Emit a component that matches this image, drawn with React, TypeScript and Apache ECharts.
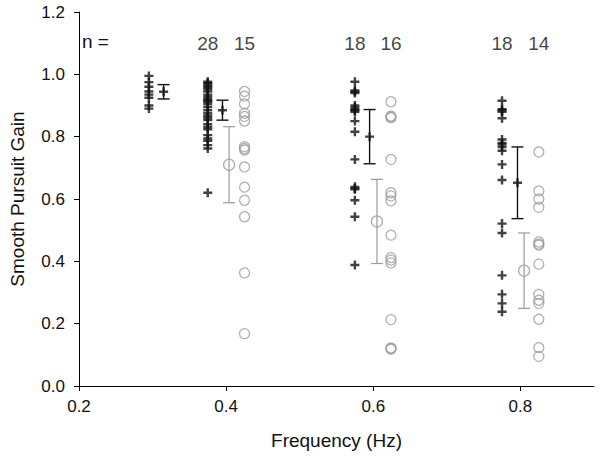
import React, { useEffect, useRef } from "react";
import * as echarts from "echarts";

// Column x positions (Hz) for individual points and for the means
const blackX = [0.295, 0.375, 0.575, 0.775];
const blackMeanX = [0.315, 0.395, 0.595, 0.796];
const greyX = [0.425, 0.624, 0.825];
const greyMeanX = [0.404, 0.605, 0.805];

// Individual gains (black crosses)
const black03 = [0.995, 0.975, 0.96, 0.945, 0.935, 0.925, 0.9, 0.89];
const black04 = [0.976, 0.972, 0.968, 0.962, 0.958, 0.952, 0.945, 0.935, 0.928, 0.92, 0.916, 0.912, 0.905, 0.895, 0.885, 0.875, 0.867, 0.86, 0.853, 0.84, 0.831, 0.824, 0.805, 0.794, 0.787, 0.773, 0.762, 0.62];
const black06 = [0.976, 0.948, 0.944, 0.94, 0.9, 0.894, 0.888, 0.885, 0.88, 0.85, 0.816, 0.727, 0.639, 0.634, 0.631, 0.596, 0.543, 0.388];
const black08 = [0.915, 0.888, 0.885, 0.88, 0.859, 0.791, 0.78, 0.775, 0.767, 0.755, 0.711, 0.661, 0.521, 0.491, 0.355, 0.294, 0.265, 0.238];

// Individual gains (grey circles)
const grey04 = [0.945, 0.93, 0.905, 0.875, 0.865, 0.85, 0.768, 0.762, 0.757, 0.703, 0.638, 0.596, 0.543, 0.363, 0.168];
const grey06 = [0.912, 0.866, 0.863, 0.861, 0.727, 0.62, 0.61, 0.594, 0.484, 0.412, 0.404, 0.395, 0.213, 0.122, 0.12, 0.118];
const grey08 = [0.751, 0.626, 0.6, 0.573, 0.462, 0.455, 0.452, 0.391, 0.294, 0.275, 0.265, 0.214, 0.123, 0.095];

// Means and error half-widths
const blackMean = [0.944, 0.885, 0.8, 0.652];
const blackErr = [0.023, 0.032, 0.087, 0.115];
const greyMean = [0.71, 0.528, 0.37];
const greyErr = [0.122, 0.135, 0.121];

const xTicks = [0.2, 0.4, 0.6, 0.8];
const nLabelY = 1.1;

const BLACK = "#111111";
const GREY = "#9c9c9c";
const FONT = "'Liberation Sans', Arial, sans-serif";
const PLUS = "path://M3.3,0H5.7V3.3H9V5.7H5.7V9H3.3V5.7H0V3.3H3.3Z";

export default function App() {
  const ref = useRef<HTMLDivElement>(null);
  useEffect(() => {
    if (!ref.current) return;
    const chart = echarts.init(ref.current, undefined, { renderer: "svg" });

    const blackGroups = [black03, black04, black06, black08];
    const greyGroups = [grey04, grey06, grey08];
    const blackPts: number[][] = [];
    blackGroups.forEach((g, i) => g.forEach((v) => blackPts.push([blackX[i], v])));
    const greyPts: number[][] = [];
    greyGroups.forEach((g, i) => g.forEach((v) => greyPts.push([greyX[i], v])));

    const errData: any[] = [];
    blackMean.forEach((m, i) => errData.push([blackMeanX[i], m - blackErr[i], m + blackErr[i], 0]));
    greyMean.forEach((m, i) => errData.push([greyMeanX[i], m - greyErr[i], m + greyErr[i], 1]));

    const nData: any[] = [];
    for (let i = 1; i < blackGroups.length; i++) {
      nData.push([blackX[i], nLabelY, String(blackGroups[i].length)]);
      nData.push([greyX[i - 1], nLabelY, String(greyGroups[i - 1].length)]);
    }

    chart.setOption({
      animation: false,
      textStyle: { fontFamily: FONT },
      grid: { left: 72, right: 6, top: 12, bottom: 74 },
      xAxis: {
        type: "value",
        min: 0.2,
        max: 0.9,
        interval: 0.2,
        name: "Frequency (Hz)",
        nameLocation: "middle",
        nameGap: 45,
        nameTextStyle: { fontSize: 19, color: "#111", fontFamily: FONT },
        axisLine: { show: true, lineStyle: { color: "#000", width: 1 } },
        axisTick: { show: true, length: 5, lineStyle: { color: "#000" }, customValues: xTicks },
        axisLabel: {
          fontSize: 17,
          color: "#111",
          margin: 12,
          customValues: xTicks,
          formatter: (v: number) => v.toFixed(1),
        },
        splitLine: { show: false },
      },
      yAxis: {
        type: "value",
        min: 0,
        max: 1.2,
        interval: 0.2,
        name: "Smooth Pursuit Gain",
        nameLocation: "middle",
        nameGap: 52,
        nameTextStyle: { fontSize: 19, color: "#111", fontFamily: FONT },
        axisLine: { show: true, lineStyle: { color: "#000", width: 1 } },
        axisTick: { show: true, length: 5, lineStyle: { color: "#000" } },
        axisLabel: {
          fontSize: 17,
          color: "#111",
          margin: 14,
          formatter: (v: number) => v.toFixed(1),
        },
        splitLine: { show: false },
      },
      graphic: [
        {
          type: "text",
          left: 82,
          top: 32,
          style: { text: "n =", fontSize: 19, fill: "#111", fontFamily: FONT },
        },
      ],
      series: [
        {
          type: "custom",
          data: errData,
          z: 1,
          renderItem: (params: any, api: any) => {
            const x = api.value(0);
            const lo = api.coord([x, api.value(1)]);
            const hi = api.coord([x, api.value(2)]);
            const isGrey = api.value(3) === 1;
            const color = isGrey ? GREY : BLACK;
            const w = 6;
            const style = { stroke: color, lineWidth: isGrey ? 1.2 : 1.4 };
            return {
              type: "group",
              children: [
                { type: "line", shape: { x1: lo[0], y1: lo[1], x2: hi[0], y2: hi[1] }, style },
                { type: "line", shape: { x1: lo[0] - w, y1: lo[1], x2: lo[0] + w, y2: lo[1] }, style },
                { type: "line", shape: { x1: hi[0] - w, y1: hi[1], x2: hi[0] + w, y2: hi[1] }, style },
              ],
            };
          },
        },
        {
          type: "scatter",
          data: greyPts,
          symbol: "circle",
          symbolSize: 10,
          z: 2,
          itemStyle: { color: "rgba(0,0,0,0)", borderColor: GREY, borderWidth: 1.3 },
        },
        {
          type: "scatter",
          data: blackPts,
          symbol: PLUS,
          symbolSize: 9,
          z: 3,
          itemStyle: { color: BLACK },
        },
        {
          type: "scatter",
          data: blackMean.map((m, i) => [blackMeanX[i], m]),
          symbol: PLUS,
          symbolSize: 9,
          z: 4,
          itemStyle: { color: BLACK },
        },
        {
          type: "scatter",
          data: greyMean.map((m, i) => [greyMeanX[i], m]),
          symbol: "circle",
          symbolSize: 11,
          z: 4,
          itemStyle: { color: "rgba(0,0,0,0)", borderColor: GREY, borderWidth: 1.3 },
        },
        {
          type: "scatter",
          data: nData,
          symbolSize: 0,
          z: 5,
          silent: true,
          label: {
            show: true,
            position: "inside",
            fontSize: 19,
            color: "#111",
            fontFamily: FONT,
            formatter: (p: any) => p.value[2],
          },
        },
      ],
    });
    return () => chart.dispose();
  }, []);
  return (
    <div
      ref={ref}
      style={{ position: "fixed", left: 0, top: 0, width: 600, height: 460, background: "#fff" }}
    />
  );
}
